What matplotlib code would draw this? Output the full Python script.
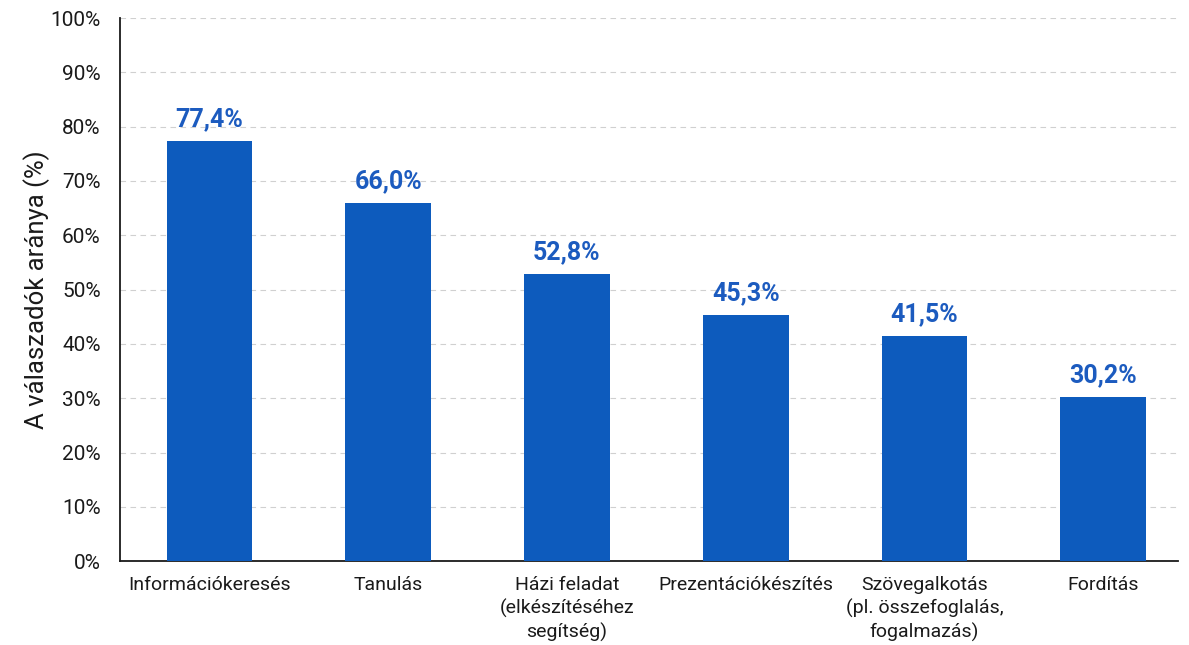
import matplotlib.pyplot as plt
import numpy as np

plt.rcParams['font.family'] = ['Roboto', 'DejaVu Sans']

categories = ['Információkeresés', 'Tanulás', 'Házi feladat\n(elkészítéséhez\nsegítség)',
              'Prezentációkészítés', 'Szövegalkotás\n(pl. összefoglalás,\nfogalmazás)', 'Fordítás']
values = [77.4, 66.0, 52.8, 45.3, 41.5, 30.2]
yticks = np.arange(0, 101, 10)

fig = plt.figure(figsize=(11.89, 6.45), dpi=100)
ax = fig.add_axes([0.101, 0.130, 0.890, 0.842])

x = np.arange(len(categories))
ax.bar(x, values, width=0.48, color='#0d5bbd', zorder=3)

for xi, v in zip(x, values):
    ax.annotate(f'{v:.1f}%'.replace('.', ','), (xi, v), xytext=(0, 7),
                textcoords='offset points', ha='center', va='bottom',
                fontsize=18, fontweight='bold', color='#1c5bbf')

ax.set_xlim(-0.5, 5.42)
ax.set_ylim(0, 100)
ax.set_yticks(yticks)
ax.set_yticklabels([f'{t}%' for t in yticks], fontsize=15, color='#1a1a1a')
ax.set_xticks(x)
ax.set_xticklabels(categories, fontsize=14, color='#1a1a1a', linespacing=1.3)
ax.tick_params(axis='y', length=0, pad=14)
ax.tick_params(axis='x', length=0, pad=11)
ax.set_ylabel('A válaszadók aránya (%)', fontsize=18.5, color='#1a1a1a', labelpad=0)

ax.yaxis.grid(True, linestyle=(0, (5, 4)), color='#d0d0d0', linewidth=0.8, zorder=0)
for side in ['top', 'right']:
    ax.spines[side].set_visible(False)
for side in ['left', 'bottom']:
    ax.spines[side].set_color('#1a1a1a')
    ax.spines[side].set_linewidth(1.3)

fig.savefig('out.png', dpi=100)
